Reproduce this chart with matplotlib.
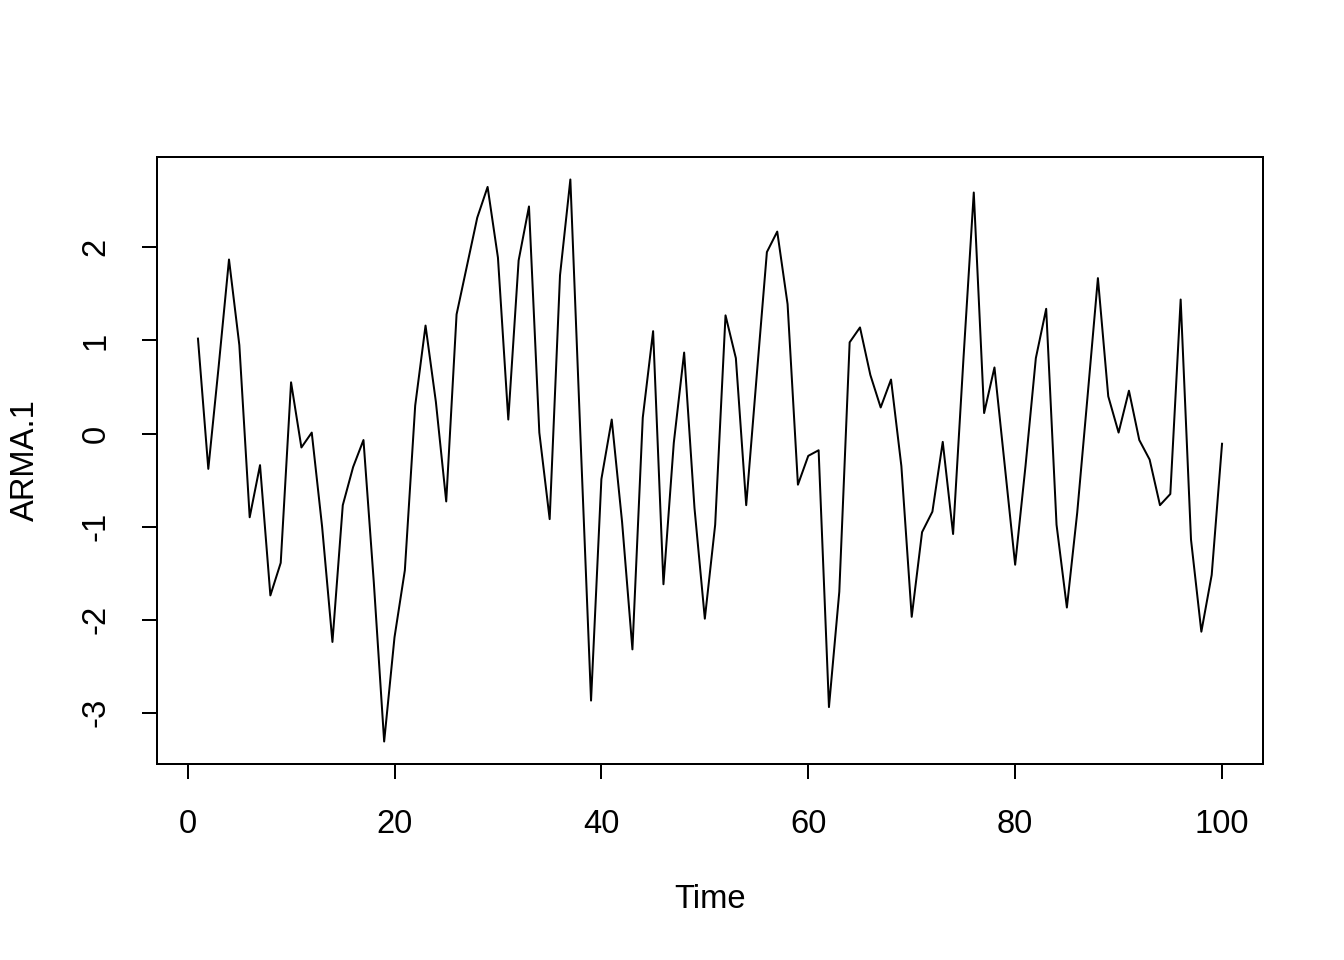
import numpy as np
import matplotlib
matplotlib.use("Agg")
import matplotlib.pyplot as plt

plt.rcParams['font.family'] = ['Liberation Sans', 'DejaVu Sans']
plt.rcParams['axes.unicode_minus'] = False

# ARMA.1 series, t = 1..100
time = np.arange(1, 101)
arma1 = [
    1.02, -0.38, 0.72, 1.87, 0.95, -0.90, -0.34, -1.74, -1.39, 0.55,
    -0.15, 0.01, -1.00, -2.24, -0.77, -0.36, -0.07, -1.60, -3.31, -2.19,
    -1.47, 0.30, 1.16, 0.34, -0.73, 1.28, 1.80, 2.32, 2.65, 1.89,
    0.15, 1.86, 2.44, 0.01, -0.92, 1.70, 2.73, -0.10, -2.87, -0.49,
    0.15, -0.95, -2.32, 0.17, 1.10, -1.62, -0.10, 0.87, -0.80, -1.99,
    -0.98, 1.27, 0.81, -0.77, 0.60, 1.95, 2.17, 1.39, -0.55, -0.24,
    -0.18, -2.94, -1.70, 0.98, 1.14, 0.63, 0.28, 0.58, -0.35, -1.97,
    -1.06, -0.84, -0.09, -1.08, 0.80, 2.59, 0.22, 0.71, -0.35, -1.41,
    -0.35, 0.81, 1.34, -0.98, -1.87, -0.85, 0.40, 1.67, 0.40, 0.01,
    0.46, -0.07, -0.28, -0.77, -0.65, 1.44, -1.14, -2.13, -1.52, -0.11,
]
x_ticks = [0, 20, 40, 60, 80, 100]
y_ticks = [-3, -2, -1, 0, 1, 2]

fig = plt.figure(figsize=(7, 5), dpi=192)
ax = fig.add_axes([157 / 1344, 1 - 764 / 960, (1263 - 157) / 1344, (764 - 157) / 960])

ax.plot(time, arma1, color='black', lw=0.75)

# R style 4% padding around the data range
x0, x1 = time.min(), time.max()
y0, y1 = min(arma1), max(arma1)
ax.set_xlim(x0 - 0.04 * (x1 - x0), x1 + 0.04 * (x1 - x0))
ax.set_ylim(y0 - 0.04 * (y1 - y0), y1 + 0.04 * (y1 - y0))

ax.set_xticks(x_ticks)
ax.set_yticks(y_ticks)
ax.tick_params(axis='both', direction='out', length=5.5, width=0.75, labelsize=12.3, pad=11.5)
ax.tick_params(axis='y', labelrotation=90)
for lab in ax.get_yticklabels():
    lab.set_verticalalignment('center')
for s in ax.spines.values():
    s.set_linewidth(0.75)

fig.text(710 / 1344, 1 - 900 / 960, 'Time', ha='center', va='center', fontsize=12.3)
fig.text(25 / 1344, 1 - 460 / 960, 'ARMA.1', ha='center', va='center', rotation=90, fontsize=12.3)

fig.savefig('out.png', dpi=192)
